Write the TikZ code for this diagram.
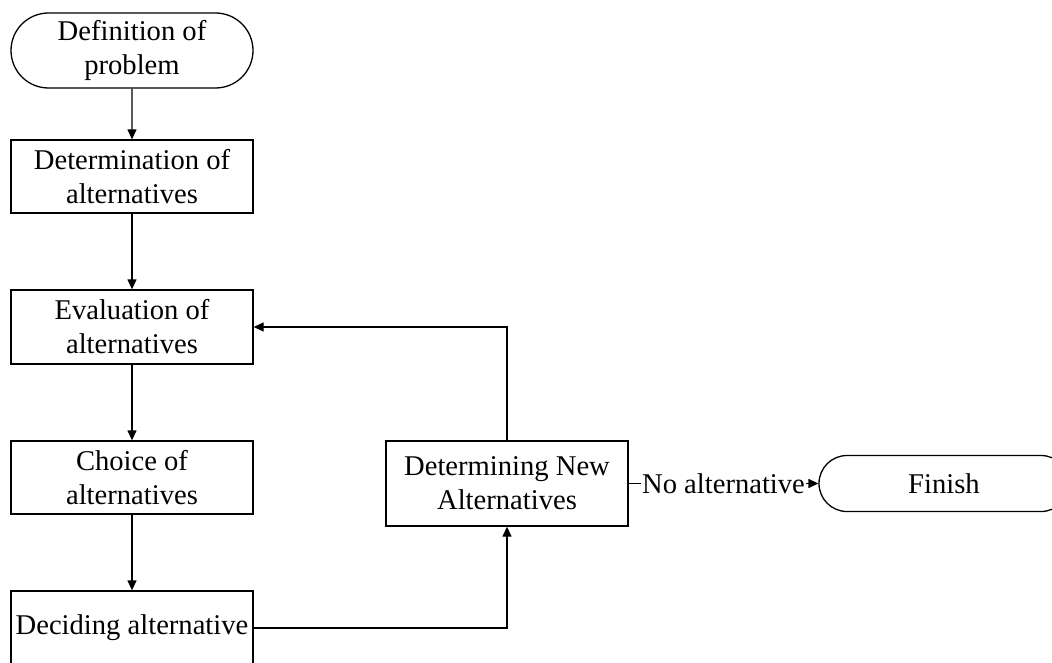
\documentclass[tikz,border=0pt]{standalone}
\usepackage{fontspec}
\setmainfont{Liberation Serif}
\usetikzlibrary{shapes.misc,arrows.meta}
\begin{document}
\begin{tikzpicture}[x=1pt,y=-1pt,
  every node/.style={font=\fontsize{28.6}{34}\selectfont, align=center},
  box/.style={draw, line width=1.3pt, minimum width=242pt, inner sep=0pt},
  term/.style={draw, line width=1.3pt, rounded rectangle, inner sep=0pt},
  conn/.style={line width=1.3pt, -{Triangle[length=10pt,width=9pt]}}]
\useasboundingbox (0,0) rectangle (1052,663);
\node[term, minimum width=242pt, minimum height=75pt] (def) at (132,50.5) {Definition of\\problem};
\node[box, minimum height=73pt] (det) at (132,176.5) {Determination of\\alternatives};
\node[box, minimum height=74pt] (eval) at (132,327) {Evaluation of\\alternatives};
\node[box, minimum height=73pt] (choice) at (132,477.5) {Choice of\\alternatives};
\node[box, minimum height=74pt] (decide) at (132,628) {Deciding alternative};
\node[box, minimum height=85pt] (newalt) at (507,483.5) {Determining New\\Alternatives};
\node[term, minimum width=250pt, minimum height=56pt] (finish) at (944,483.5) {Finish};
\draw[conn] (def) -- (det);
\draw[conn] (det) -- (eval);
\draw[conn] (eval) -- (choice);
\draw[conn] (choice) -- (decide);
\draw[conn] (decide.east) -| (newalt.south);
\draw[conn] (newalt.north) |- (eval.east);
\draw[conn] (newalt.east) -- node[fill=white, inner sep=1pt] {No alternative} (finish.west);
\end{tikzpicture}
\end{document}
